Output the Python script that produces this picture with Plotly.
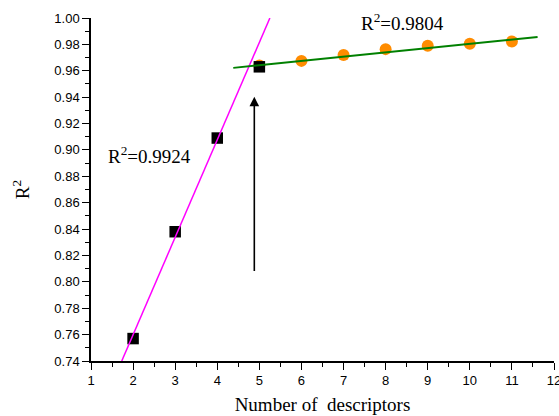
import plotly.graph_objects as go

# Data
sq_x = [2, 3, 4, 5]
sq_y = [0.757, 0.838, 0.909, 0.963]

circ_x = [5, 6, 7, 8, 9, 10, 11]
circ_y = [0.964, 0.9675, 0.972, 0.9764, 0.979, 0.9805, 0.9822]

fit1_x = [1.73, 5.25]
fit1_y = [0.74, 1.00]

fit2_x = [4.38, 11.61]
fit2_y = [0.9622, 0.9856]

label1 = "R<sup>2</sup>=0.9924"
label2 = "R<sup>2</sup>=0.9804"

serif = "Liberation Serif, Times New Roman, serif"
sans = "Liberation Sans, Arial, sans-serif"

fig = go.Figure()
fig.add_trace(go.Scatter(x=circ_x, y=circ_y, mode="markers",
                         marker=dict(symbol="circle", size=12, color="#FF8C00"),
                         showlegend=False))
fig.add_trace(go.Scatter(x=sq_x, y=sq_y, mode="markers",
                         marker=dict(symbol="square", size=11.5, color="black"),
                         showlegend=False))
fig.add_trace(go.Scatter(x=fit1_x, y=fit1_y, mode="lines",
                         line=dict(color="#FF00FF", width=1.5),
                         showlegend=False))
fig.add_trace(go.Scatter(x=fit2_x, y=fit2_y, mode="lines",
                         line=dict(color="#008000", width=2),
                         showlegend=False))

fig.add_annotation(x=2.38, y=0.896, text=label1, showarrow=False,
                   font=dict(family=serif, size=19, color="black"))
fig.add_annotation(x=8.39, y=0.9967, text=label2, showarrow=False,
                   font=dict(family=serif, size=19, color="black"))

# Arrow
fig.add_annotation(x=4.88, y=0.9404, ax=4.88, ay=0.807,
                   xref="x", yref="y", axref="x", ayref="y",
                   text="", showarrow=True, arrowhead=2, arrowsize=1.2,
                   arrowwidth=1.6, arrowcolor="black", standoff=0)

fig.update_xaxes(range=[1, 12], dtick=1, tick0=1, automargin=False,
                 showline=True, linecolor="black", linewidth=1.5,
                 ticks="outside", ticklen=7, tickwidth=1.2, tickcolor="black",
                 minor=dict(dtick=0.5, tick0=1, ticks="outside", ticklen=4,
                            tickwidth=1.2, tickcolor="black"),
                 showgrid=False, zeroline=False,
                 ticklabeloverflow="allow",
                 tickfont=dict(family=sans, size=13, color="black"),
                 title=dict(text="Number of  descriptors",
                            font=dict(family=serif, size=19, color="black"),
                            standoff=10))
fig.update_yaxes(range=[0.74, 1.00], dtick=0.02, tick0=0.74, tickformat=".2f",
                 automargin=False,
                 showline=True, linecolor="black", linewidth=1.5,
                 ticks="outside", ticklen=7, tickwidth=1.2, tickcolor="black",
                 minor=dict(dtick=0.01, ticks="outside", ticklen=4,
                            tickwidth=1.2, tickcolor="black"),
                 showgrid=False, zeroline=False,
                 tickfont=dict(family=sans, size=13, color="black"),
                 title=dict(text="R<sup>2</sup>",
                            font=dict(family=serif, size=19, color="black"),
                            standoff=20))

fig.update_layout(width=559, height=416,
                  margin=dict(l=91, r=5, t=18, b=55),
                  plot_bgcolor="white", paper_bgcolor="white")

fig.write_html("out.html", config={"displayModeBar": False},
               post_script="document.body.style.margin='0';document.body.style.overflow='hidden';")
